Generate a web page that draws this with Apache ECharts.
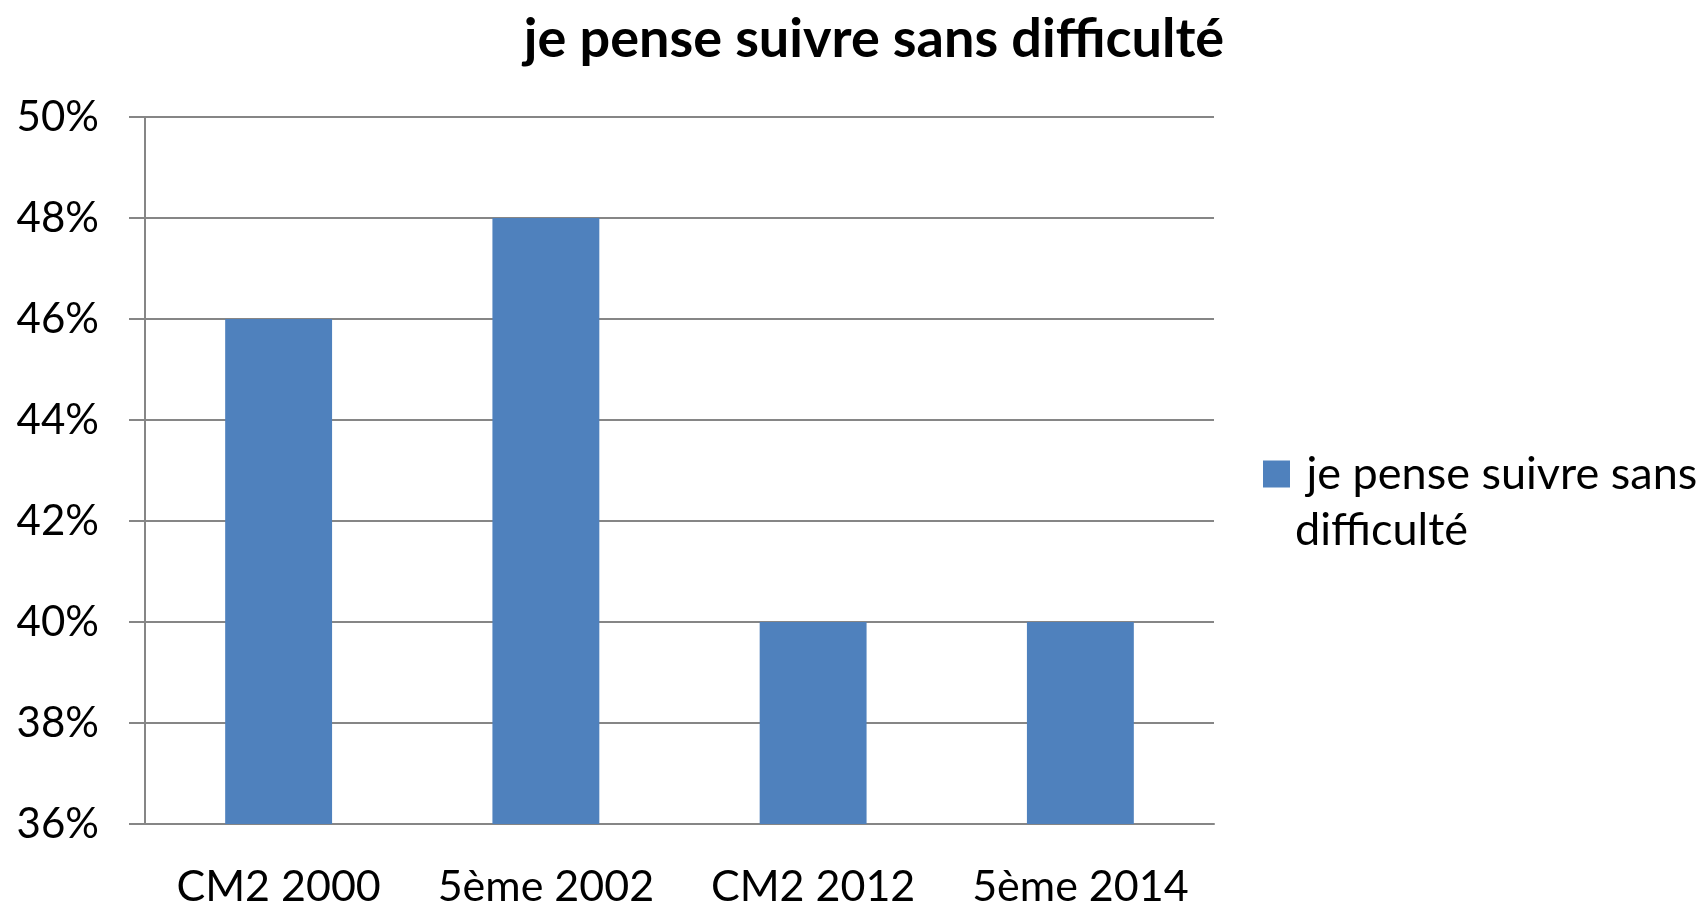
<!DOCTYPE html>
<html>
<head>
<meta charset="utf-8">
<script src="https://cdn.jsdelivr.net/npm/echarts@6/dist/echarts.min.js"></script>
<style>
  html, body { margin: 0; padding: 0; background: #fff; }
  #chart { width: 1707px; height: 906px; }
</style>
</head>
<body>
<div id="chart"></div>
<script>
// données
var categories = ['CM2 2000', '5ème 2002', 'CM2 2012', '5ème 2014'];
var valeurs = [46, 48, 40, 40];
var nomSerie = 'je pense suivre sans difficulté';

var chart = echarts.init(document.getElementById('chart'));
var police = 'Lato, "Open Sans", sans-serif';

var option = {
    animation: false,
    title: {
        text: nomSerie,
        left: 869,
        textAlign: 'center',
        top: 8,
        textStyle: { fontFamily: police, fontWeight: 'bold', fontSize: 54, color: '#000' }
    },
    legend: {
        left: 1263,
        top: 390,
        padding: 0,
        orient: 'vertical',
        itemWidth: 27,
        itemHeight: 27,
        icon: 'rect',
        // ligne vide en tête : la 1re ligne du texte reste alignée sur le carré
        formatter: function () { return '\n je pense suivre sans\ndifficulté'; },
        textStyle: { fontFamily: police, fontSize: 45, color: '#000', lineHeight: 56 },
        data: [nomSerie]
    },
    grid: { left: 145, right: 493, top: 117, bottom: 82, outerBoundsMode: 'none' },
    xAxis: {
        type: 'category',
        data: categories,
        axisLine: { lineStyle: { color: '#868686', width: 2 } },
        axisTick: { length: 16, lineStyle: { color: '#868686', width: 1.5 } },
        axisLabel: { fontFamily: police, fontSize: 43, color: '#000', margin: 42, interval: 0 }
    },
    yAxis: {
        type: 'value',
        min: 36,
        max: 50,
        interval: 2,
        axisLine: { show: true, lineStyle: { color: '#868686', width: 2 } },
        axisTick: { show: true, length: 16, lineStyle: { color: '#868686', width: 2 } },
        splitLine: { lineStyle: { color: '#868686', width: 2 } },
        axisLabel: {
            fontFamily: police, fontSize: 42, color: '#000', margin: 46,
            formatter: '{value}%'
        }
    },
    series: [{
        name: nomSerie,
        type: 'bar',
        data: valeurs,
        barWidth: '40%',
        itemStyle: { color: '#4F81BD' }
    }]
};

chart.setOption(option);
</script>
</body>
</html>
